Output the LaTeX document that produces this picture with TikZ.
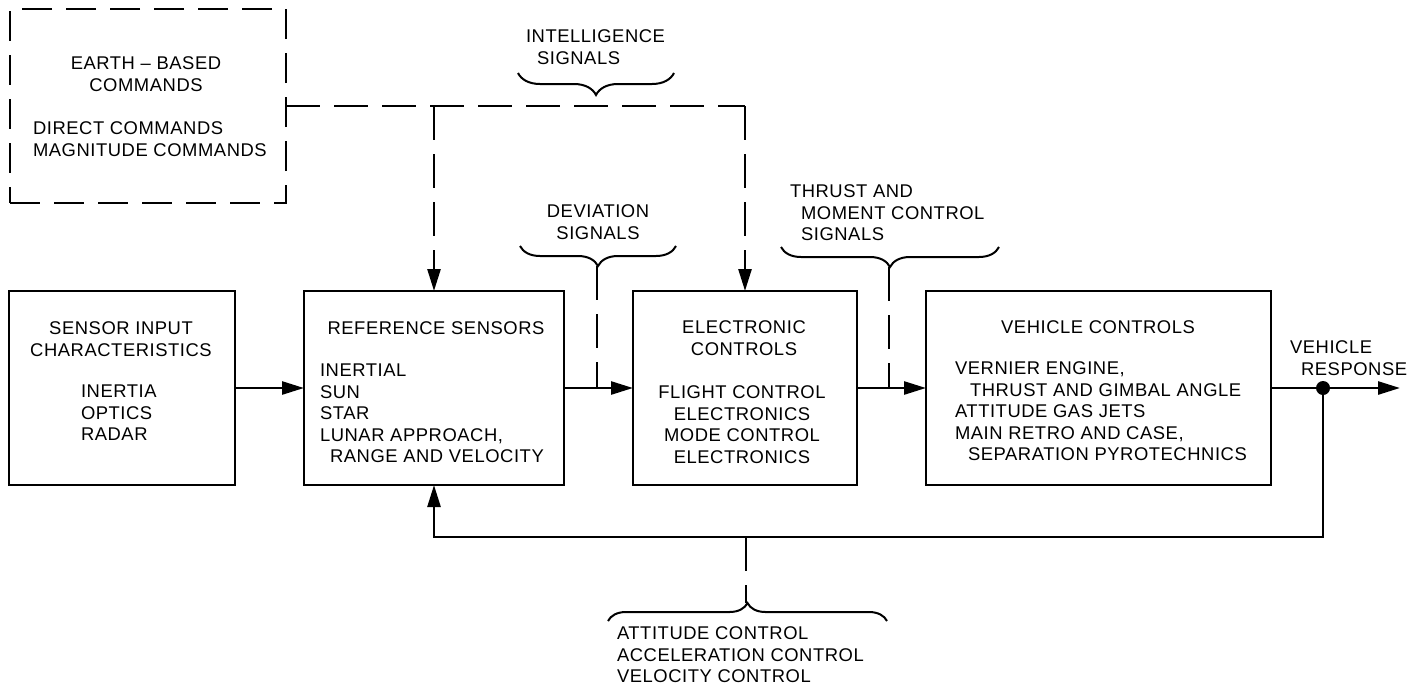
\documentclass[tikz,border=0pt]{standalone}
\usepackage{fontspec}
\setmainfont{Liberation Sans}[LetterSpace=3]
\usetikzlibrary{arrows.meta,decorations.pathreplacing}
\begin{document}
\begin{tikzpicture}[x=0.5pt,y=-0.5pt,
  every node/.style={inner sep=0pt, outer sep=0pt, font=\fontsize{9.2}{10.75}\selectfont},
  box/.style={draw, line width=1.1pt, minimum height=97pt},
  dbox/.style={box, dash pattern=on 15pt off 7pt},
  lbl/.style={align=left, anchor=north west},
  clbl/.style={align=center, anchor=north},
  conn/.style={line width=1.3pt},
  arr/.style={conn, -{Triangle[length=11pt,width=6.5pt]}},
  dashln/.style={line width=1.3pt, dash pattern=on 17pt off 7pt},
  darr/.style={dashln, -{Triangle[length=11pt,width=6.5pt]}},
  bracestyle/.style={line width=1pt, decorate, decoration={brace, amplitude=#1}},
  dotnode/.style={circle, fill, minimum size=7pt}
]
\useasboundingbox (0,0) rectangle (1417,686);

% boxes
\node[dbox, minimum width=138pt] (earth) at (148,106) {};
\node[box, minimum width=113pt] (sens) at (122,388) {};
\node[box, minimum width=130pt] (ref) at (434,388) {};
\node[box, minimum width=112pt] (elec) at (745,388) {};
\node[box, minimum width=172.5pt] (veh) at (1098.5,388) {};

% texts in boxes
\node[clbl] (earthhead) at (146,57) {EARTH – BASED\\COMMANDS};
\node[lbl] (earthlist) at (33,122) {DIRECT COMMANDS\\MAGNITUDE COMMANDS};
\node[clbl] (senshead) at (121,322) {SENSOR INPUT\\CHARACTERISTICS};
\node[lbl] (senslist) at (81,385) {INERTIA\\OPTICS\\RADAR};
\node[clbl] (refhead) at (436,322) {REFERENCE SENSORS};
\node[lbl] (reflist) at (320,364) {INERTIAL\\SUN\\STAR\\LUNAR APPROACH,\\\hspace*{5pt}RANGE AND VELOCITY};
\node[clbl] (elechead) at (744,321) {ELECTRONIC\\CONTROLS};
\node[clbl] (eleclist) at (742,386) {FLIGHT CONTROL\\ELECTRONICS\\MODE CONTROL\\ELECTRONICS};
\node[clbl] (vehhead) at (1098,321) {VEHICLE CONTROLS};
\node[lbl] (vehlist) at (955,362) {VERNIER ENGINE,\\\hspace*{7.5pt}THRUST AND GIMBAL ANGLE\\ATTITUDE GAS JETS\\MAIN RETRO AND CASE,\\\hspace*{6.5pt}SEPARATION PYROTECHNICS};

% outside labels
\node[lbl] (intel) at (526,30) {INTELLIGENCE\\\hspace*{5.5pt}SIGNALS};
\node[clbl] (dev) at (598,205) {DEVIATION\\SIGNALS};
\node[lbl] (thrust) at (790,185) {THRUST AND\\\hspace*{5.5pt}MOMENT CONTROL\\\hspace*{5.5pt}SIGNALS};
\node[lbl] (resp) at (1290,341) {VEHICLE\\\hspace*{5.5pt}RESPONSE};
\node[lbl] (fbtext) at (617,627) {ATTITUDE CONTROL\\ACCELERATION CONTROL\\VELOCITY CONTROL};

% coordinates
\node[dotnode] (dot) at (1323,388) {};
\coordinate (out) at (1400,388);
\coordinate (ej) at (434,106);
\coordinate (er) at (745,106);
\coordinate (devtip) at (597,266);
\coordinate (devj) at (597,388);
\coordinate (thrtip) at (889,267);
\coordinate (thrj) at (889,388);
\coordinate (fbl) at (434,537);
\coordinate (fbj) at (746,537);
\coordinate (fbtip) at (746,603);

% main flow
\draw[arr] (sens.east) -- (ref.west);
\draw[arr] (ref.east) -- (elec.west);
\draw[arr] (elec.east) -- (veh.west);
\draw[conn] (veh.east) -- (dot);
\draw[arr] (dot) -- (out);
\draw[arr] (dot) |- (fbl) -- (ref.south);

% dashed command lines
\draw[dashln] (earth.east) -- (er);
\draw[darr] (er) -- (elec.north);
\draw[darr] (ej) -- (ref.north);
\draw[dashln] (devtip) -- (devj);
\draw[dashln] (thrtip) -- (thrj);
\draw[dashln] (fbj) -- (fbtip);

% braces
\draw[bracestyle=11pt] (674,73) -- (518,73);
\draw[bracestyle=10pt] (676,246) -- (520,246);
\draw[bracestyle=10pt] (999,247) -- (781,247);
\draw[bracestyle=9pt] (608,621) -- (887,621);
\end{tikzpicture}
\end{document}
